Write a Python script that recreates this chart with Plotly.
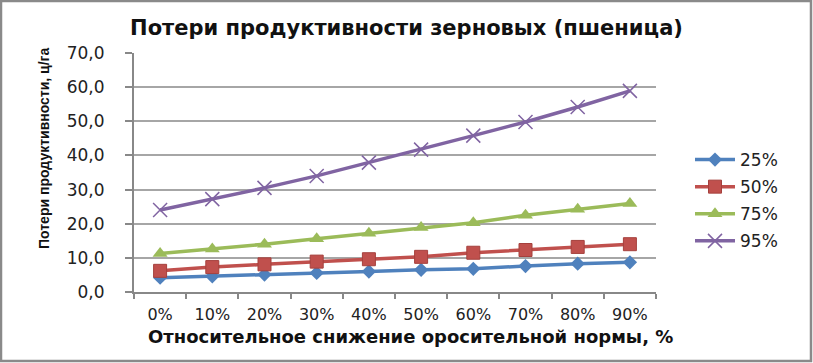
import plotly.graph_objects as go

categories = ["0%", "10%", "20%", "30%", "40%", "50%", "60%", "70%", "80%", "90%"]
series_names = ["25%", "50%", "75%", "95%"]
s25 = [4.2, 4.6, 5.1, 5.6, 6.0, 6.5, 6.8, 7.6, 8.3, 8.7]
s50 = [6.2, 7.3, 8.1, 8.9, 9.6, 10.3, 11.5, 12.3, 13.2, 14.0]
s75 = [11.3, 12.6, 14.0, 15.6, 17.2, 18.9, 20.3, 22.5, 24.2, 25.9]
s95 = [24.0, 27.2, 30.5, 34.0, 37.9, 41.7, 45.8, 49.8, 54.2, 58.9]
y_ticks = [0, 10, 20, 30, 40, 50, 60, 70]
y_tick_labels = ["0,0", "10,0", "20,0", "30,0", "40,0", "50,0", "60,0", "70,0"]

title_text = "Потери продуктивности зерновых (пшеница)"
x_title = "Относительное снижение оросительной нормы, %"
y_title = "Потери продуктивности, ц/га"

W, H = 813, 363
L, R, T, B = 134, 157, 53, 71
pw, ph = W - L - R, H - T - B

styles = [
    dict(color="#4F81BD", symbol="diamond", size=11, line=dict(width=0)),
    dict(color="#C0504D", symbol="square", size=13, line=dict(width=1, color="#A5403D")),
    dict(color="#9BBB59", symbol="triangle-up", size=13, line=dict(width=0)),
    dict(color="#8064A2", symbol="x-thin-open", size=14, line=dict(width=1.5, color="#8064A2")),
]

fig = go.Figure()
for i, (name, vals) in enumerate(zip(series_names, [s25, s50, s75, s95])):
    st = styles[i]
    fig.add_trace(go.Scatter(
        x=categories, y=vals, name=name, mode="lines+markers",
        line=dict(color=st["color"], width=3.5),
        marker=dict(symbol=st["symbol"], size=st["size"], color=st["color"], line=st["line"]),
        legendgroup=name,
    ))

def px_x(px):
    return (px - L) / pw

def px_y(py):
    return (H - B - py) / ph

fig.update_layout(
    width=W, height=H,
    margin=dict(l=L, r=R, t=T, b=B),
    paper_bgcolor="white", plot_bgcolor="white",
    font=dict(family="DejaVu Sans", color="#222"),
    title=dict(text=title_text, x=0.5, xanchor="center", xref="container",
               y=1 - 28 / H, yanchor="middle", yref="container",
               font=dict(family="DejaVu Sans", size=21, color="#111", weight="bold")),
    xaxis=dict(type="category", range=[-0.5, 9.5], tickson="boundaries",
               ticks="outside", ticklen=5, tickcolor="#888", tickwidth=1.5,
               showline=True, linecolor="#888", linewidth=2,
               showgrid=False, zeroline=False, ticklabelstandoff=7,
               tickfont=dict(size=16, color="#222"), fixedrange=True),
    yaxis=dict(range=[0, 70], tickvals=y_ticks, ticktext=y_tick_labels,
               ticks="outside", ticklen=7, tickcolor="#888", tickwidth=1.5,
               showline=True, linecolor="#888", linewidth=2,
               showgrid=True, gridcolor="#A6A6A6", gridwidth=1.5, zeroline=False,
               tickfont=dict(size=17, color="#222"), ticklabelstandoff=17),
    legend=dict(x=px_x(690), xanchor="left", y=px_y(142), yanchor="top",
                font=dict(size=17, color="#222"), tracegroupgap=2,
                itemwidth=40, bgcolor="rgba(0,0,0,0)"),
    showlegend=True,
    annotations=[
        dict(text=x_title, xref="paper", yref="paper", x=px_x(410), y=px_y(336),
             xanchor="center", yanchor="middle", showarrow=False,
             font=dict(family="DejaVu Sans", size=18, color="#111", weight="bold")),
        dict(text=y_title, xref="paper", yref="paper", x=px_x(44), y=px_y(149),
             xanchor="center", yanchor="middle", showarrow=False, textangle=-90,
             font=dict(family="Liberation Sans Narrow, Liberation Sans", size=14, color="#111", weight="bold")),
    ],
    shapes=[
        dict(type="rect", xref="paper", yref="paper",
             x0=px_x(1), x1=px_x(811), y0=px_y(1), y1=px_y(361),
             line=dict(color="#8A8A8A", width=2.5), fillcolor="rgba(0,0,0,0)", layer="below"),
    ],
)

fig.write_html("out.html", config={"displayModeBar": False},
               post_script="document.body.style.margin='0';document.body.style.overflow='hidden';")
